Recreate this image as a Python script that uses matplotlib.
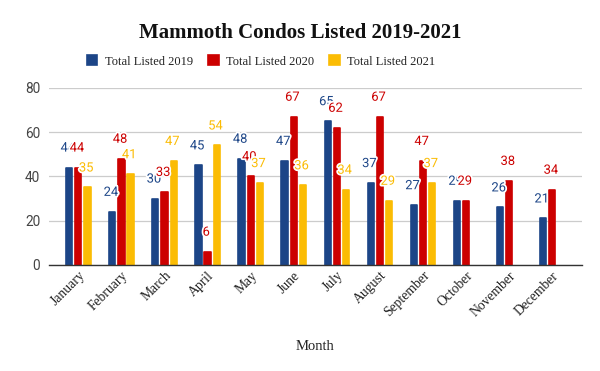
import numpy as np
import matplotlib
matplotlib.use("Agg")
import matplotlib.pyplot as plt
import matplotlib.patheffects as pe

#========================================================
# Data
months = ["January", "February", "March", "April", "May", "June",
          "July", "August", "September", "October", "November", "December"]
listed_2019 = [44, 24, 30, 45, 48, 47, 65, 37, 27, 29, 26, 21]
listed_2020 = [44, 48, 33, 6, 40, 67, 62, 67, 47, 29, 38, 34]
listed_2021 = [35, 41, 47, 54, 37, 36, 34, 29, 37, None, None, None]
series_names = ["Total Listed 2019", "Total Listed 2020", "Total Listed 2021"]
colors = ["#1c4587", "#cc0000", "#fbbc04"]

#========================================================
# Plot
fig = plt.figure(figsize=(6, 3.71), dpi=100)
ax = fig.add_axes([0.081, 0.286, 0.889, 0.477])

x = np.arange(len(months))
width = 0.145
pitch = 0.213

for i, (vals, name, col) in enumerate(zip([listed_2019, listed_2020, listed_2021],
                                          series_names, colors)):
    xs = [xi + (i - 1) * pitch for xi, v in zip(x, vals) if v is not None]
    ys = [v for v in vals if v is not None]
    ax.bar(xs, ys, width=width, color=col, edgecolor=col, linewidth=1.2,
           joinstyle="round", label=name, zorder=3)
    for xx, yy in zip(xs, ys):
        ax.annotate(str(yy), (xx, yy), xytext=(-1, 14), textcoords="offset points",
                    ha="center", va="center", color=col, fontsize=9.3,
                    family="Roboto", zorder=5,
                    path_effects=[pe.withStroke(linewidth=2.5, foreground="white")])

ax.set_xlim(-0.69, 11.69)
ax.set_ylim(0, 80)
ax.set_yticks([0, 20, 40, 60, 80])
ax.grid(axis="y", color="#cccccc", linewidth=0.9, zorder=0)
for s in ["left", "right", "top"]:
    ax.spines[s].set_visible(False)
ax.spines["bottom"].set_color("#333333")
ax.spines["bottom"].set_linewidth(1.0)
ax.spines["bottom"].set_zorder(4)
ax.tick_params(axis="both", length=0)
ax.tick_params(axis="y", labelsize=9.8, labelcolor="#444444", pad=6)
for lbl in ax.get_yticklabels():
    lbl.set_family("Roboto")

ax.set_xticks(x)
ax.set_xticklabels(months, rotation=45, ha="right", rotation_mode="anchor",
                   family="Liberation Serif", fontsize=9.8, color="#222222")
ax.tick_params(axis="x", pad=3)
ax.set_xlabel("Month", family="Liberation Serif", fontsize=10.5, color="#222222", labelpad=15)

fig.text(0.5, 0.912, "Mammoth Condos Listed 2019-2021", ha="center", va="center",
         family="Liberation Serif", fontweight="bold", fontsize=15, color="#111111")

leg = fig.legend(loc="center", bbox_to_anchor=(0.435, 0.834), ncol=3, frameon=False,
                 prop={"family": "Liberation Serif", "size": 9.0},
                 handlelength=0.85, handleheight=0.85, handletextpad=0.6, columnspacing=1.2)
for t in leg.get_texts():
    t.set_color("#222222")

plt.savefig("out.png", dpi=100)
